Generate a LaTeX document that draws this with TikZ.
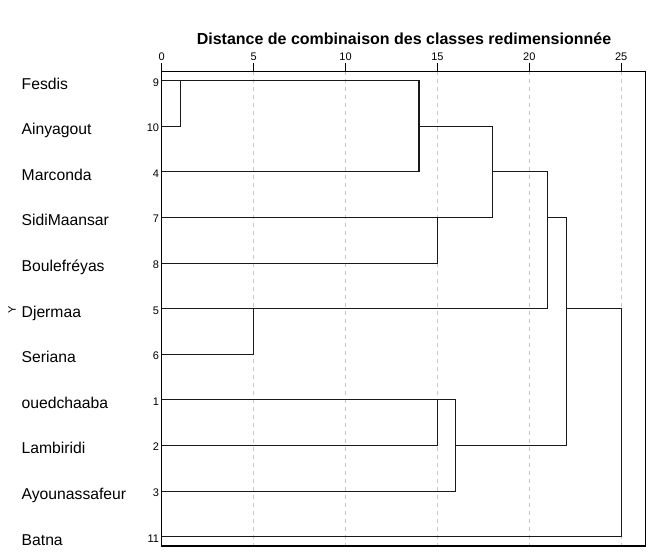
\documentclass[tikz,border=0pt]{standalone}
\usepackage{fontspec}
\setmainfont{Liberation Sans}

\begin{document}
\begin{tikzpicture}[x=1pt,y=-1pt,
  lab/.style={anchor=base west,inner sep=0pt,font=\fontsize{15.7}{18}\selectfont},
  num/.style={anchor=base east,inner sep=0pt,font=\fontsize{11}{13}\selectfont},
  tk/.style={anchor=base,inner sep=0pt,font=\fontsize{11}{13}\selectfont},
  gline/.style={black!22,dash pattern=on 4pt off 4pt,line width=0.7pt},
  br/.style={line width=1.1pt,black!90}]
\useasboundingbox (0,0) rectangle (654,554);
\node[anchor=base,font=\bfseries\fontsize{16}{19}\selectfont] (titre) at (404,44.3) {Distance de combinaison des classes redimensionnée};
\node[rotate=90,inner sep=0pt,font=\fontsize{11}{13}\selectfont] (axe) at (12,310) {Y};
\foreach \n/\lbl [count=\i from 0] in {9/Fesdis,10/Ainyagout,4/Marconda,7/SidiMaansar,8/Boulefréyas,5/Djermaa,6/Seriana,1/ouedchaaba,2/Lambiridi,3/Ayounassafeur,11/Batna}{
  \node[lab] (nom\n) at (21.5,{80.7+45.6*\i+8.4}) {\lbl};
  \node[num] (num\n) at (159.3,{80.7+45.6*\i+5.3}) {\n};
  \coordinate (l\n) at (161.7,{80.7+45.6*\i});
}
\begin{scope}[shift={(161.7,0)},x=18.38pt]
\foreach \d in {5,10,...,25}
  \draw[gline] (\d,71.3) -- (\d,546);
\foreach \d in {0,5,...,25}{
  \draw[line width=0.8pt] (\d,62.5) -- (\d,71.3);
  \node[tk] (t\d) at (\d,60.7) {\d};
}
\coordinate (c1) at (1,80.7);
\coordinate (c2) at (14,126.3);
\coordinate (c3) at (15,217.5);
\coordinate (c4) at (18,171.9);
\coordinate (c5) at (5,308.7);
\coordinate (c6) at (21,217.5);
\coordinate (c7) at (15,399.9);
\coordinate (c8) at (16,445.5);
\coordinate (c9) at (22,308.7);
\coordinate (c10) at (25,308.7);
\end{scope}
\draw[br] (l9) -- (l9-|c1) |- (l10);
\draw[br] (c1) -- (c1-|c2) |- (l4);
\draw[br] (l7) -- (l7-|c3) |- (l8);
\draw[br] (c2) -- (c2-|c4) |- (c3);
\draw[br] (l5) -- (l5-|c5) |- (l6);
\draw[br] (c4) -- (c4-|c6) |- (c5);
\draw[br] (l1) -- (l1-|c7) |- (l2);
\draw[br] (c7) -- (c7-|c8) |- (l3);
\draw[br] (c6) -- (c6-|c9) |- (c8);
\draw[br] (c9) -- (c9-|c10) |- (l11);
\draw[line width=1.1pt] (161.7,71.3) rectangle (645.3,546);
\end{tikzpicture}
\end{document}
